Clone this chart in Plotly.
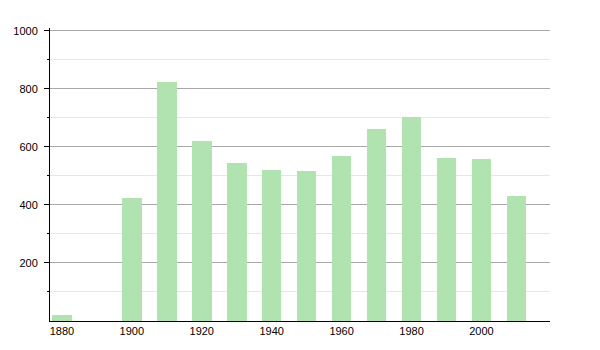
import plotly.graph_objects as go

years = [1880, 1900, 1910, 1920, 1930, 1940, 1950, 1960, 1970, 1980, 1990, 2000, 2010]
population = [20, 425, 823, 620, 545, 520, 517, 569, 661, 702, 562, 557, 431]
x_ticks = [1880, 1900, 1920, 1940, 1960, 1980, 2000]
y_ticks = [200, 400, 600, 800, 1000]
y_minor = [100, 300, 500, 700, 900]

fig = go.Figure()
fig.add_trace(go.Bar(
    x=years, y=population, width=5.6,
    marker=dict(color="#b0e3b0", line=dict(width=0)),
))

fig.update_layout(
    width=600, height=350,
    margin=dict(l=50, r=50, t=28, b=29),
    paper_bgcolor="white", plot_bgcolor="white",
    showlegend=False,
    font=dict(family="Liberation Sans, Arial, sans-serif", size=11, color="#000"),
    bargap=0,
)
fig.update_xaxes(
    range=[1876.6, 2019.6], tickvals=x_ticks, ticks="", showgrid=False,
    showline=True, linecolor="#000", linewidth=1, zeroline=False,
    tickfont=dict(size=11),
)
fig.update_yaxes(
    range=[0, 1010], tickvals=y_ticks, showgrid=True, gridcolor="#a8a8a8", gridwidth=1,
    ticks="outside", ticklen=5, tickcolor="#000", ticklabelstandoff=4,
    showline=True, linecolor="#000", linewidth=1, zeroline=False,
    minor=dict(tickvals=y_minor, showgrid=True, gridcolor="#e6e6e6", ticks="outside",
               ticklen=2, tickcolor="#000"),
    tickfont=dict(size=11),
)
fig.write_html("out.html")
